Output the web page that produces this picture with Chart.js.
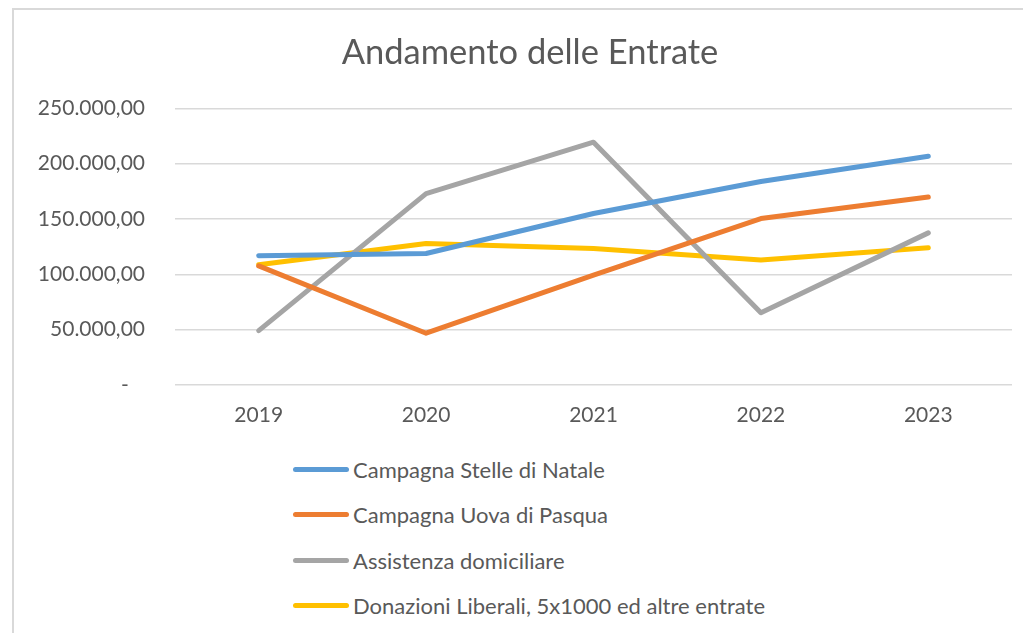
<!DOCTYPE html>
<html lang="it">
<head>
<meta charset="utf-8">
<title>Andamento delle Entrate</title>
<script src="https://cdn.jsdelivr.net/npm/chart.js@4.4.0/dist/chart.umd.min.js"></script>
<style>
  html, body { margin: 0; padding: 0; background: #fff; overflow: hidden; }
  body { width: 1023px; height: 633px; position: relative; font-family: Lato, "Open Sans", sans-serif; }
  .frame { position: absolute; left: 12px; top: 8px; width: 1100px; height: 700px;
           border-left: 2px solid #d9d9d9; border-top: 2px solid #d9d9d9; }
  .wrap { position: absolute; left: 0; top: 0; width: 1023px; height: 440px; }
  #legend { position: absolute; left: 293px; top: 447px; margin: 0; padding: 0; list-style: none; }
  #legend li { display: flex; align-items: center; height: 45.3px; color: #595959; font-size: 22px; }
  #legend .sw { display: inline-block; width: 56px; height: 5px; border-radius: 3px; margin-right: 4px; }
</style>
</head>
<body>
<div class="frame"></div>
<div class="wrap"><canvas id="entrateChart"></canvas></div>
<ul id="legend"></ul>
<script>
  const years = ['2019', '2020', '2021', '2022', '2023'];

  const stelleNatale = [116800, 118900, 155000, 184000, 206800];
  const uovaPasqua = [107700, 46800, 99400, 150400, 169900];
  const assistenza = [49200, 173000, 219500, 65400, 137500];
  const donazioni = [108700, 127900, 123400, 112900, 124000];

  const seriesNames = [
    'Campagna Stelle di Natale',
    'Campagna Uova di Pasqua',
    'Assistenza domiciliare',
    'Donazioni Liberali, 5x1000 ed altre entrate'
  ];
  const seriesColors = ['#5B9BD5', '#ED7D31', '#A5A5A5', '#FFC000'];

  const yMax = 250000;
  const yStep = 50000;

  // 250000 -> "250.000,00", 0 -> "-" (formato contabile)
  function formatEuro(v) {
    if (v === 0) return '-   ';
    const parts = Math.round(v).toString().replace(/\B(?=(\d{3})+(?!\d))/g, '.');
    return parts + ',00';
  }

  const seriesValues = [stelleNatale, uovaPasqua, assistenza, donazioni];
  const datasets = seriesNames.map((name, i) => ({
    label: name,
    data: seriesValues[i],
    borderColor: seriesColors[i],
    backgroundColor: seriesColors[i],
    borderWidth: 5,
    borderCapStyle: 'round',
    borderJoinStyle: 'round',
    pointRadius: 0,
    tension: 0,
    fill: false
  }));

  const textColor = '#595959';

  // il titolo in Excel è centrato sulla cornice, non sul canvas: lo spostiamo un po'
  const shiftTitle = {
    id: 'shiftTitle',
    afterLayout(chart) {
      if (chart.titleBlock) chart.titleBlock.left += 48;
    }
  };

  const chart = new Chart(document.getElementById('entrateChart'), {
    type: 'line',
    data: { labels: years, datasets: datasets },
    plugins: [shiftTitle],
    options: {
      responsive: true,
      maintainAspectRatio: false,
      animation: false,
      layout: { padding: { left: 0, right: 11, top: 0, bottom: 0 } },
      plugins: {
        legend: { display: false },
        tooltip: { enabled: false },
        title: {
          display: true,
          text: 'Andamento delle Entrate',
          color: textColor,
          font: { family: 'Lato', size: 34.5, weight: '400' },
          padding: { top: 32, bottom: 35 }
        }
      },
      scales: {
        x: {
          offset: true,
          grid: { display: false, drawTicks: false },
          border: { display: false },
          ticks: { color: textColor, font: { family: 'Lato', size: 21 }, padding: 18, maxRotation: 0 },
          afterFit: (axis) => { axis.height = 55; }
        },
        y: {
          min: 0,
          max: yMax,
          grid: { color: '#d9d9d9', lineWidth: 1.5, drawTicks: false },
          border: { display: false },
          ticks: {
            stepSize: yStep,
            color: textColor,
            font: { family: 'Lato', size: 21 },
            padding: 30,
            callback: (v) => formatEuro(v)
          },
          afterFit: (axis) => { axis.width = 175; }
        }
      }
    }
  });

  // legenda verticale in basso, costruita dai dataset
  const legendEl = document.getElementById('legend');
  chart.data.datasets.forEach((ds) => {
    const li = document.createElement('li');
    const sw = document.createElement('span');
    sw.className = 'sw';
    sw.style.background = ds.borderColor;
    li.appendChild(sw);
    li.appendChild(document.createTextNode(ds.label));
    legendEl.appendChild(li);
  });
</script>
</body>
</html>
